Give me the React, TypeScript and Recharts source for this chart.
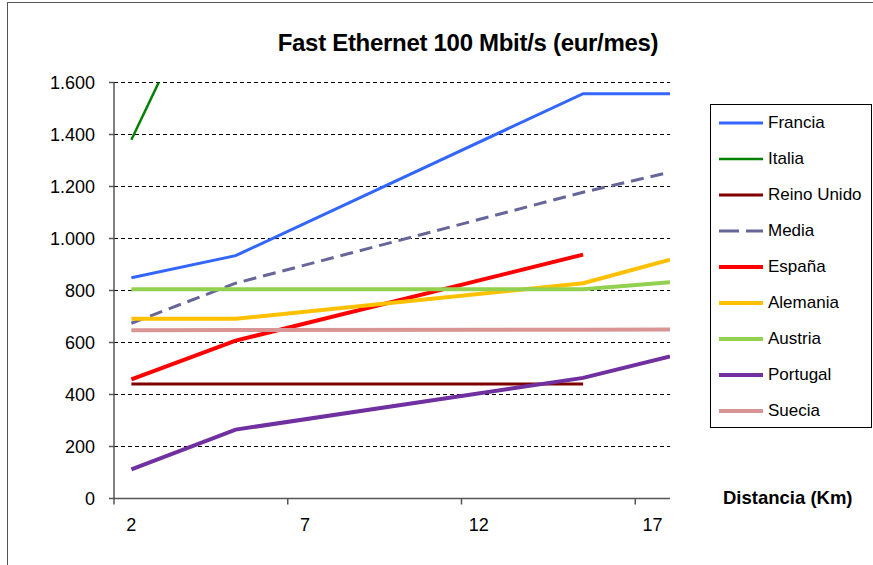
import { LineChart, Line, XAxis, YAxis, CartesianGrid } from 'recharts'

// distance in km; the last column is where the lines leave the plot at its right edge
const distances = [2, 5, 15, 17.5]

const francia = [849, 934, 1557, 1557]
const italia = [1380, 2220, null, null]
const reinoUnido = [440, 440, 440, null]
const media = [674, 828, 1178, 1255]
const espana = [458, 607, 938, null]
const alemania = [691, 691, 828, 919]
const austria = [805, 805, 805, 832]
const portugal = [112, 265, 464, 546]
const suecia = [647, 648, 649, 650]

const yTicks = [0, 200, 400, 600, 800, 1000, 1200, 1400, 1600]
const xLabelTicks = [2, 7, 12, 17]
const xMarkTicks = [1.5, 6.5, 11.5, 16.5]
const xDomain = [1.5, 17.5]

const series = [
  { key: 'francia', name: 'Francia', values: francia, color: '#3366ff', width: 3 },
  { key: 'italia', name: 'Italia', values: italia, color: '#008000', width: 2.5 },
  { key: 'reinoUnido', name: 'Reino Unido', values: reinoUnido, color: '#800000', width: 3 },
  { key: 'media', name: 'Media', values: media, color: '#666699', width: 3, dash: '13 7' },
  { key: 'espana', name: 'España', values: espana, color: '#ff0000', width: 4 },
  { key: 'alemania', name: 'Alemania', values: alemania, color: '#ffc000', width: 4 },
  { key: 'austria', name: 'Austria', values: austria, color: '#92d050', width: 4 },
  { key: 'portugal', name: 'Portugal', values: portugal, color: '#7030a0', width: 4 },
  { key: 'suecia', name: 'Suecia', values: suecia, color: '#d99594', width: 4 },
]

const data = distances.map((d, i) => {
  const row: any = { km: d }
  series.forEach((s) => {
    row[s.key] = s.values[i]
  })
  return row
})

const fmt = (v: number) => String(v).replace(/\B(?=(\d{3})+(?!\d))/g, '.')

const font = '"Liberation Sans", Arial, sans-serif'

export default function App() {
  return (
    <div
      style={{
        position: 'absolute',
        left: 0,
        top: 0,
        width: 873,
        height: 565,
        overflow: 'hidden',
        background: '#fff',
        fontFamily: font,
      }}
    >
      <div
        style={{
          position: 'absolute',
          left: 7,
          top: 2,
          width: 1000,
          height: 1000,
          borderLeft: '1px solid #555',
          borderTop: '1px solid #555',
        }}
      />
      <div
        style={{
          position: 'absolute',
          left: 268,
          top: 31,
          width: 400,
          textAlign: 'center',
          fontSize: 24,
          lineHeight: 1,
          fontWeight: 'bold',
          letterSpacing: -0.3,
          color: '#000',
        }}
      >
        Fast Ethernet 100 Mbit/s (eur/mes)
      </div>

      <div style={{ position: 'absolute', left: 0, top: 0 }}>
        <LineChart width={873} height={565} data={data} margin={{ top: 82.5, right: 203, bottom: 0, left: 0 }}>
          <CartesianGrid
            xAxisId="labels"
            horizontal
            vertical={false}
            stroke="#000"
            strokeDasharray="4 3"
          />
          <XAxis
            xAxisId="labels"
            dataKey="km"
            type="number"
            domain={xDomain}
            allowDataOverflow
            ticks={xLabelTicks}
            height={66}
            axisLine={false}
            tickLine={false}
            tickSize={0}
            tickMargin={19}
            tick={{ fontSize: 18, fill: '#000', fontFamily: font }}
          />
          <XAxis
            xAxisId="edge"
            dataKey="km"
            type="number"
            domain={xDomain}
            allowDataOverflow
            ticks={xMarkTicks}
            height={0.5}
            tickSize={6}
            tickFormatter={() => ''}
            axisLine={{ stroke: '#555', strokeWidth: 1.5 }}
            tickLine={{ stroke: '#555', strokeWidth: 1.5 }}
          />
          <YAxis
            type="number"
            domain={[0, 1600]}
            allowDataOverflow
            ticks={yTicks}
            width={114}
            tickSize={5}
            tickMargin={14}
            tickFormatter={fmt}
            axisLine={{ stroke: '#555', strokeWidth: 1.5 }}
            tickLine={{ stroke: '#555', strokeWidth: 1.5 }}
            tick={{ fontSize: 18, fill: '#000', fontFamily: font }}
          />
          {series.map((s) => (
            <Line
              key={s.key}
              xAxisId="labels"
              type="linear"
              dataKey={s.key}
              name={s.name}
              stroke={s.color}
              strokeWidth={s.width}
              strokeDasharray={s.dash}
              dot={false}
              activeDot={false}
              isAnimationActive={false}
            />
          ))}
        </LineChart>
      </div>

      <div
        style={{
          position: 'absolute',
          left: 723,
          top: 489,
          fontSize: 18.5,
          lineHeight: 1,
          fontWeight: 'bold',
          color: '#000',
          whiteSpace: 'nowrap',
        }}
      >
        Distancia (Km)
      </div>

      <div
        style={{
          position: 'absolute',
          left: 710,
          top: 104,
          width: 162,
          height: 324,
          boxSizing: 'border-box',
          border: '1px solid #000',
        }}
      >
        {series.map((s) => (
          <div key={s.key} style={{ display: 'flex', alignItems: 'center', height: 36 }}>
            <svg width={44} height={8} style={{ marginLeft: 8, marginRight: 5 }}>
              <line
                x1={0}
                y1={4}
                x2={44}
                y2={4}
                stroke={s.color}
                strokeWidth={s.width}
                strokeDasharray={s.dash ? '20 7' : undefined}
              />
            </svg>
            <span style={{ fontSize: 17, color: '#000', whiteSpace: 'nowrap' }}>{s.name}</span>
          </div>
        ))}
      </div>
    </div>
  )
}
